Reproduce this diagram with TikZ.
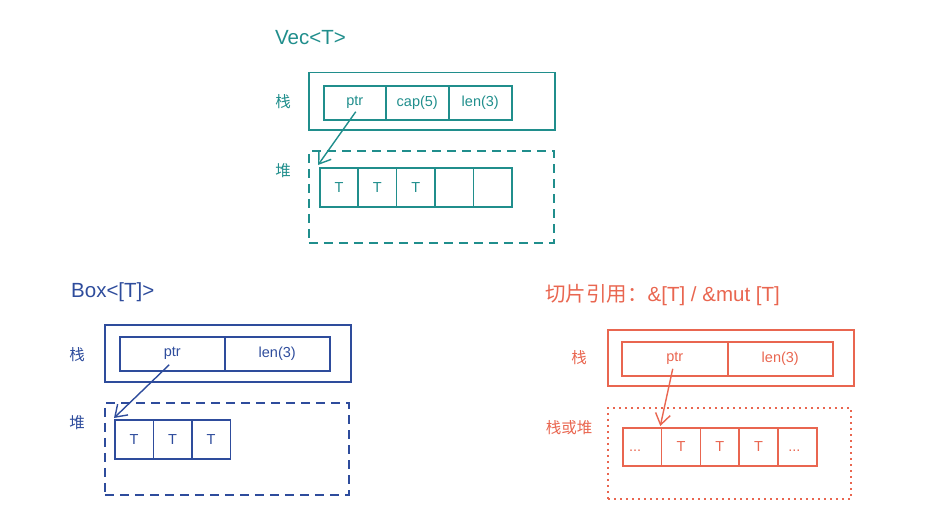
\documentclass[tikz,border=0pt]{standalone}
\usepackage{fontspec}
\setmainfont{Liberation Sans}
\newfontfamily\cjk{Noto Sans CJK SC}
\usetikzlibrary{arrows.meta}
\definecolor{teal1}{RGB}{32,142,140}
\definecolor{blue1}{RGB}{46,76,156}
\definecolor{red1}{RGB}{233,102,80}
\tikzset{
  cellbox/.style={draw, line width=1.5pt, inner sep=0pt, anchor=north west, font=\fontsize{14.5}{16}\selectfont},
  outerbox/.style={draw, line width=1.5pt, inner sep=0pt, anchor=north west},
  dashbox/.style={draw, line width=1.6pt, dash pattern=on 9pt off 6pt, inner sep=0pt, anchor=north west},
  dotbox/.style={draw, line width=1.6pt, dash pattern=on 2pt off 4pt, inner sep=0pt, anchor=north west},
  lbl/.style={font=\cjk\fontsize{15.5}{17}\selectfont, inner sep=0pt},
  ttl/.style={font=\fontsize{20.5}{24}\selectfont, inner sep=0pt, anchor=west},
  ptrarrow/.style={line width=1.4pt, -{Straight Barb[length=11pt,width=15pt]}},
}
\begin{document}
\begin{tikzpicture}[x=1pt,y=-1pt]
\useasboundingbox (0,0) rectangle (934,527);
% ---------------- Vec<T>
\begin{scope}[color=teal1]
\node[ttl,text=teal1] (vt) at (275,38) {Vec<T>};
\node[outerbox,minimum width=246pt,minimum height=57pt] (vst) at (308,72) {};
\node[cellbox,minimum width=62pt,minimum height=34pt,text=teal1] (vptr) at (323,85) {ptr};
\node[cellbox,minimum width=63pt,minimum height=34pt,text=teal1] (vcap) at (385,85) {cap(5)};
\node[cellbox,minimum width=63pt,minimum height=34pt,text=teal1] (vlen) at (448,85) {len(3)};
\node[lbl,text=teal1] (vl1) at (283,102) {栈};
\node[lbl,text=teal1] (vl2) at (283,171) {堆};
\node[dashbox,minimum width=245pt,minimum height=92pt] (vheap) at (308,150) {};
\node[cellbox,minimum width=38.4pt,minimum height=39pt,text=teal1] (vh1) at (319,167) {T};
\node[cellbox,minimum width=38.4pt,minimum height=39pt,text=teal1] (vh2) at (357.4,167) {T};
\node[cellbox,minimum width=38.4pt,minimum height=39pt,text=teal1] (vh3) at (395.8,167) {T};
\node[cellbox,minimum width=38.4pt,minimum height=39pt] (vh4) at (434.2,167) {};
\node[cellbox,minimum width=38.4pt,minimum height=39pt] (vh5) at (472.6,167) {};
\draw[ptrarrow] ([xshift=1pt,yshift=-9pt]vptr.center) -- ([xshift=-1pt,yshift=2pt]vh1.north west);
\end{scope}
% ---------------- Box<[T]>
\begin{scope}[color=blue1]
\node[ttl,text=blue1] (bt) at (71,292) {Box<[T]>};
\node[outerbox,minimum width=246pt,minimum height=57pt] (bst) at (104,324) {};
\node[cellbox,minimum width=105pt,minimum height=34pt,text=blue1] (bptr) at (119,336) {ptr};
\node[cellbox,minimum width=105pt,minimum height=34pt,text=blue1] (blen) at (224,336) {len(3)};
\node[lbl,text=blue1] (bl1) at (77,355) {栈};
\node[lbl,text=blue1] (bl2) at (77,423) {堆};
\node[dashbox,minimum width=244pt,minimum height=92pt] (bheap) at (104,402) {};
\node[cellbox,minimum width=38.5pt,minimum height=39pt,text=blue1] (bh1) at (114,419) {T};
\node[cellbox,minimum width=38.5pt,minimum height=39pt,text=blue1] (bh2) at (152.5,419) {T};
\node[cellbox,minimum width=38.5pt,minimum height=39pt,text=blue1] (bh3) at (191,419) {T};
\draw[ptrarrow] ([xshift=-3pt,yshift=-11pt]bptr.center) -- ([yshift=1pt]bh1.north west);
\end{scope}
% ---------------- slice
\begin{scope}[color=red1]
\node[ttl,text=red1] (st) at (545,295) {{\cjk 切片引用：}\&[T] / \&mut [T]};
\node[outerbox,minimum width=246pt,minimum height=56pt] (sst) at (607,329) {};
\node[cellbox,minimum width=106pt,minimum height=34pt,text=red1] (sptr) at (621,341) {ptr};
\node[cellbox,minimum width=105pt,minimum height=34pt,text=red1] (slen) at (727,341) {len(3)};
\node[lbl,text=red1] (sl1) at (579,358) {栈};
\node[lbl,text=red1] (sl2) at (569,428) {栈或堆};
\node[dotbox,minimum width=243pt,minimum height=91pt] (sheap) at (607,407) {};
\node[cellbox,minimum width=38.8pt,minimum height=38pt,text=red1] (sh1) at (622,427) {\hspace*{-14pt}\vphantom{T}...};
\node[cellbox,minimum width=38.8pt,minimum height=38pt,text=red1] (sh2) at (660.8,427) {T};
\node[cellbox,minimum width=38.8pt,minimum height=38pt,text=red1] (sh3) at (699.6,427) {T};
\node[cellbox,minimum width=38.8pt,minimum height=38pt,text=red1] (sh4) at (738.4,427) {T};
\node[cellbox,minimum width=38.8pt,minimum height=38pt,text=red1] (sh5) at (777.2,427) {\hspace*{-6pt}\vphantom{T}...};
\draw[ptrarrow] ([xshift=-2pt,yshift=-10pt]sptr.center) -- ([xshift=-0.5pt,yshift=1pt]sh2.north west);
\end{scope}
\end{tikzpicture}
\end{document}
